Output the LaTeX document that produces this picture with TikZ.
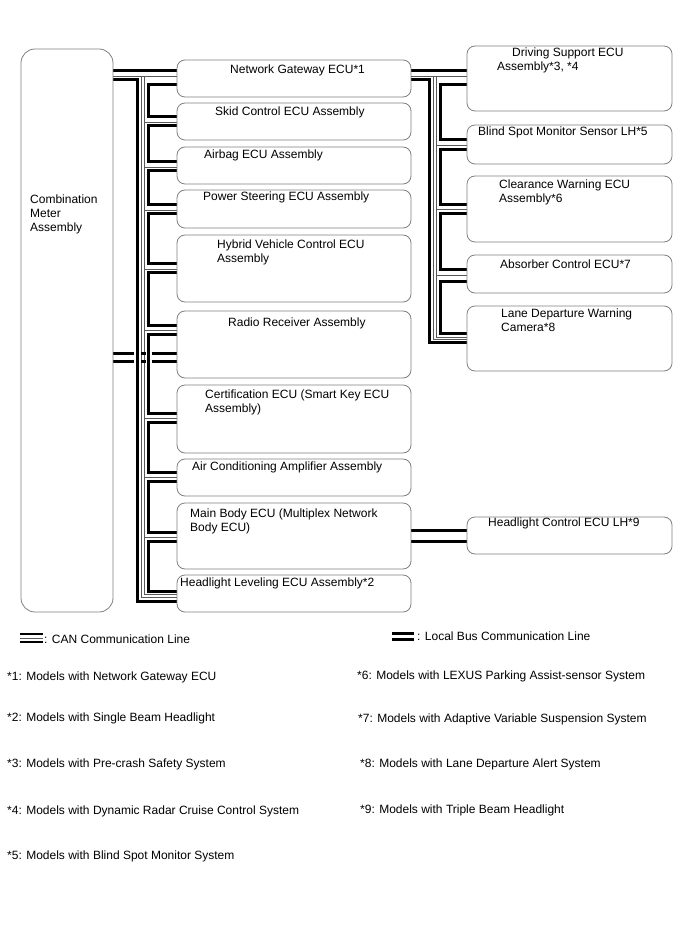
\documentclass[tikz,border=0pt]{standalone}
\usepackage{fontspec}
\setmainfont{Liberation Sans}
\begin{document}
\begin{tikzpicture}[x=1pt,y=-1pt,
  box/.style={draw=black!50, line width=0.8pt, rounded corners=8pt, anchor=north west, inner sep=0pt, outer sep=0pt},
  thk/.style={line width=3pt, black},
  thn/.style={line width=0.8pt, black!65},
  lthk/.style={line width=2.6pt, black},
  lbl/.style={anchor=base west, inner sep=0pt, font=\fontsize{12}{14}\selectfont},
]
\useasboundingbox (0,0) rectangle (688,949);

% ---------------- bus lines (left) ----------------
\coordinate (L) at (0,0);
% boxes first as nodes (for names), drawn later on top
\path
  node[box, draw=none, minimum width=92pt, minimum height=563pt, rounded corners=14pt] (meter) at (21,49) {}
  node[box, draw=none, minimum width=234pt, minimum height=37pt] (gw) at (177,60) {}
  node[box, draw=none, minimum width=234pt, minimum height=37pt] (skid) at (177,103) {}
  node[box, draw=none, minimum width=234pt, minimum height=37pt] (airbag) at (177,147) {}
  node[box, draw=none, minimum width=234pt, minimum height=38pt] (ps) at (177,190) {}
  node[box, draw=none, minimum width=234pt, minimum height=67pt] (hv) at (177,235) {}
  node[box, draw=none, minimum width=234pt, minimum height=67pt] (radio) at (177,311) {}
  node[box, draw=none, minimum width=234pt, minimum height=68pt] (cert) at (177,385) {}
  node[box, draw=none, minimum width=234pt, minimum height=37pt] (ac) at (177,459) {}
  node[box, draw=none, minimum width=234pt, minimum height=66pt] (mb) at (177,503) {}
  node[box, draw=none, minimum width=234pt, minimum height=37pt] (hl) at (177,575) {}
  node[box, draw=none, minimum width=205pt, minimum height=65pt] (ds) at (467,46) {}
  node[box, draw=none, minimum width=205pt, minimum height=39pt] (bsm) at (467,125) {}
  node[box, draw=none, minimum width=205pt, minimum height=66pt] (cw) at (467,176) {}
  node[box, draw=none, minimum width=205pt, minimum height=38pt] (abs) at (467,255) {}
  node[box, draw=none, minimum width=205pt, minimum height=65pt] (ldw) at (467,306) {}
  node[box, draw=none, minimum width=205pt, minimum height=37pt] (hlc) at (467,517) {};

% meter <-> gateway and main trunk
\draw[thk] (meter.east |- 0,71) -- (gw.west |- 0,71);
\draw[thn] (meter.east |- 0,76) -- (gw.west |- 0,76);
\draw[thk] (meter.east |- 0,80) -- (137,80) -- (137,601) -- (hl.west |- 0,601);
\draw[thn] (141.5,76) -- (141.5,597.5) -- (hl.west |- 0,597.5);
\draw[thn] (144.5,76) -- (144.5,594.5) -- (hl.west |- 0,594.5);
% brackets
\draw[thk] (gw.west |- 0,84.5) -- (148.5,84.5) -- (148.5,117) -- (skid.west |- 0,117);
\draw[thk] (skid.west |- 0,126) -- (148.5,126) -- (148.5,162) -- (airbag.west |- 0,162);
\draw[thk] (airbag.west |- 0,171) -- (148.5,171) -- (148.5,205) -- (ps.west |- 0,205);
\draw[thk] (ps.west |- 0,214) -- (148.5,214) -- (148.5,264) -- (hv.west |- 0,264);
\draw[thk] (hv.west |- 0,273) -- (148.5,273) -- (148.5,325) -- (radio.west |- 0,325);
\draw[thk] (radio.west |- 0,334) -- (148.5,334) -- (148.5,413) -- (cert.west |- 0,413);
\draw[thk] (cert.west |- 0,422) -- (148.5,422) -- (148.5,472) -- (ac.west |- 0,472);
\draw[thk] (ac.west |- 0,481) -- (148.5,481) -- (148.5,532) -- (mb.west |- 0,532);
\draw[thk] (mb.west |- 0,541) -- (148.5,541) -- (148.5,591) -- (hl.west |- 0,591);
% thin branches
\foreach \n/\y in {skid/122,airbag/167,ps/210,hv/269,radio/330,cert/418,ac/477,mb/537}
  \draw[thn] (144.5,\y) -- (\n.west |- 0,\y);
% meter <-> radio receiver (local bus, crossing trunk)
\foreach \y in {353.5,361}{
  \draw[thk] (meter.east |- 0,\y) -- (133.5,\y);
  \draw[thk] (140.5,\y) -- (145.5,\y);
  \draw[thk] (151.5,\y) -- (radio.west |- 0,\y);
}

% ---------------- bus lines (right) ----------------
\draw[thk] (gw.east |- 0,71) -- (ds.west |- 0,71);
\draw[thn] (gw.east |- 0,76) -- (ds.west |- 0,76);
\draw[thk] (gw.east |- 0,80) -- (429,80) -- (429,342.5) -- (ldw.west |- 0,342.5);
\draw[thn] (433.5,76) -- (433.5,339.5) -- (ldw.west |- 0,339.5);
\draw[thn] (436.5,76) -- (436.5,337) -- (ldw.west |- 0,337);
\draw[thk] (ds.west |- 0,85) -- (440.5,85) -- (440.5,140) -- (bsm.west |- 0,140);
\draw[thk] (bsm.west |- 0,150) -- (440.5,150) -- (440.5,205) -- (cw.west |- 0,205);
\draw[thk] (cw.west |- 0,213.5) -- (440.5,213.5) -- (440.5,270) -- (abs.west |- 0,270);
\draw[thk] (abs.west |- 0,281.5) -- (440.5,281.5) -- (440.5,333.5) -- (ldw.west |- 0,333.5);
\foreach \n/\y in {bsm/145,cw/209.5,abs/275}
  \draw[thn] (436.5,\y) -- (\n.west |- 0,\y);

% main body <-> headlight control
\draw[thk] (mb.east |- 0,530.5) -- (hlc.west |- 0,530.5);
\draw[thk] (mb.east |- 0,541) -- (hlc.west |- 0,541);

% ---------------- boxes ----------------
\foreach \n in {meter,gw,skid,airbag,ps,hv,radio,cert,ac,mb,hl,ds,bsm,cw,abs,ldw,hlc}{}
\draw[draw=black!50, line width=0.8pt, rounded corners=14pt] (meter.north west) rectangle (meter.south east);
\foreach \n in {gw,skid,airbag,ps,hv,radio,cert,ac,mb,hl,ds,bsm,cw,abs,ldw,hlc}
  \draw[draw=black!50, line width=0.8pt, rounded corners=8pt] (\n.north west) rectangle (\n.south east);

% ---------------- labels ----------------
\node[lbl] (tm1) at (30,204) {Combination};
\node[lbl] (tm2) at (30,218) {Meter};
\node[lbl] (tm3) at (30,232) {Assembly};
\node[lbl] (tgw) at (230,74) {Network Gateway ECU*1};
\node[lbl] (tskid) at (215,116) {Skid Control ECU Assembly};
\node[lbl] (tair) at (204,159) {Airbag ECU Assembly};
\node[lbl] (tps) at (203,201) {Power Steering ECU Assembly};
\node[lbl] (thv1) at (217,249) {Hybrid Vehicle Control ECU};
\node[lbl] (thv2) at (217,263) {Assembly};
\node[lbl] (trad) at (228,326) {Radio Receiver Assembly};
\node[lbl] (tc1) at (205,398) {Certification ECU (Smart Key ECU};
\node[lbl] (tc2) at (205,412) {Assembly)};
\node[lbl] (tac) at (192,470) {Air Conditioning Amplifier Assembly};
\node[lbl] (tmb1) at (190,517) {Main Body ECU (Multiplex Network};
\node[lbl] (tmb2) at (190,531) {Body ECU)};
\node[lbl] (thl) at (180,586) {Headlight Leveling ECU Assembly*2};
\node[lbl] (tds1) at (512,57) {Driving Support ECU};
\node[lbl] (tds2) at (497,71) {Assembly*3, *4};
\node[lbl] (tbsm) at (478,136) {Blind Spot Monitor Sensor LH*5};
\node[lbl] (tcw1) at (499,189) {Clearance Warning ECU};
\node[lbl] (tcw2) at (499,203) {Assembly*6};
\node[lbl] (tabs) at (500,269) {Absorber Control ECU*7};
\node[lbl] (tldw1) at (501,317) {Lane Departure Warning};
\node[lbl] (tldw2) at (501,331) {Camera*8};
\node[lbl] (thlc) at (488,526) {Headlight Control ECU LH*9};

% ---------------- legend ----------------
\coordinate (cana) at (20,634); \coordinate (canb) at (43,634);
\draw[lthk] (cana) -- (canb);
\draw[thn] ([yshift=-4pt]cana) -- ([yshift=-4pt]canb);
\draw[lthk] ([yshift=-8pt]cana) -- ([yshift=-8pt]canb);
\node[lbl] (tcan) at (44,643) {: CAN Communication Line};
\coordinate (lba) at (392,633.5); \coordinate (lbb) at (414,633.5);
\draw[lthk] (lba) -- (lbb);
\draw[lthk] ([yshift=-6pt]lba) -- ([yshift=-6pt]lbb);
\node[lbl] (tlb) at (417,640) {: Local Bus Communication Line};

% ---------------- footnotes ----------------
\node[lbl] (f1) at (7,680) {*1: Models with Network Gateway ECU};
\node[lbl] (f2) at (7,721) {*2: Models with Single Beam Headlight};
\node[lbl] (f3) at (7,767) {*3: Models with Pre-crash Safety System};
\node[lbl] (f4) at (7,814) {*4: Models with Dynamic Radar Cruise Control System};
\node[lbl] (f5) at (7,859) {*5: Models with Blind Spot Monitor System};
\node[lbl] (f6) at (357,679) {*6: Models with LEXUS Parking Assist-sensor System};
\node[lbl] (f7) at (358,722) {*7: Models with Adaptive Variable Suspension System};
\node[lbl] (f8) at (360,767) {*8: Models with Lane Departure Alert System};
\node[lbl] (f9) at (360,813) {*9: Models with Triple Beam Headlight};
\end{tikzpicture}
\end{document}
